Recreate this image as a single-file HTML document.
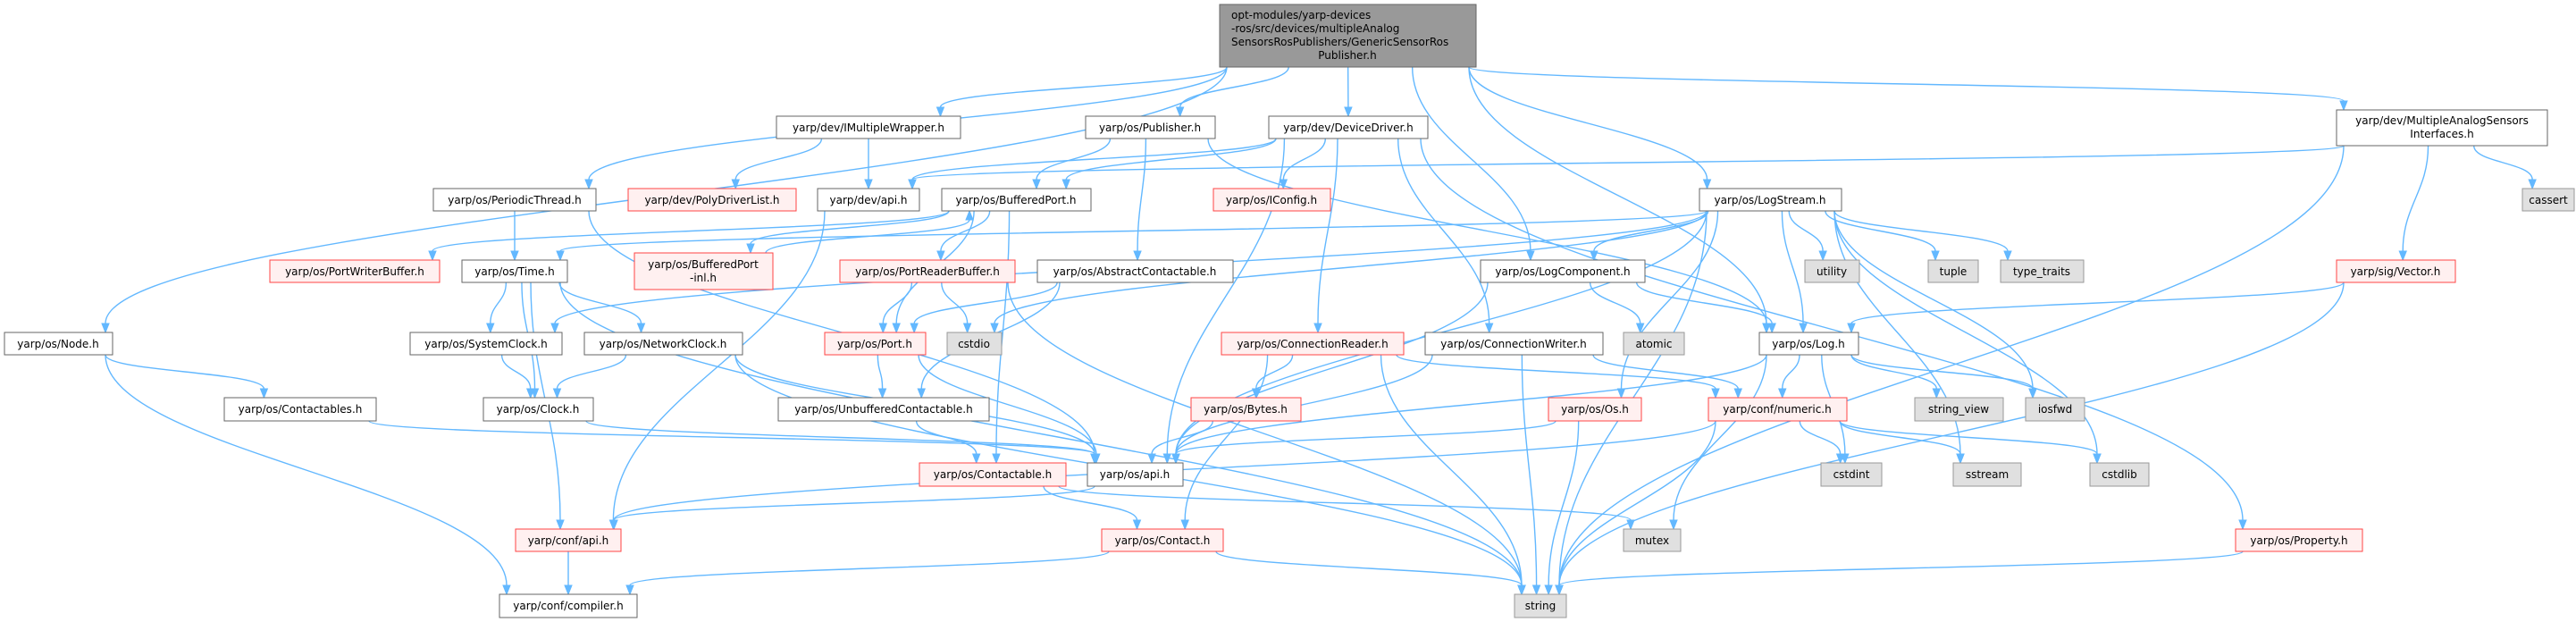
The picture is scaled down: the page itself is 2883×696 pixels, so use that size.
<!DOCTYPE html>
<html><head><meta charset="utf-8"><style>
html,body{margin:0;padding:0;background:#fff;}
svg{display:block;}
text{font-family:"DejaVu Sans","Liberation Sans",sans-serif;font-size:12px;fill:#000;}
</style></head><body>
<svg id="g" width="2883" height="696" viewBox="0 0 2883 696" xmlns="http://www.w3.org/2000/svg">
<g id="edges" fill="none" stroke="#63B8FF" stroke-width="1.4"></g>
<g id="heads" fill="#63B8FF" stroke="#63B8FF"></g>
<g id="nodes">
<rect x="1365" y="5" width="287" height="70" fill="#999" stroke="#666"/>
<text x="1378" y="21">opt-modules/yarp-devices</text>
<text x="1378" y="36">-ros/src/devices/multipleAnalog</text>
<text x="1378" y="51">SensorsRosPublishers/GenericSensorRos</text>
<text x="1508" y="66" text-anchor="middle">Publisher.h</text>

<rect x="869" y="130" width="206" height="25" fill="#fff" stroke="#666"/><text x="972" y="147" text-anchor="middle">yarp/dev/IMultipleWrapper.h</text>
<rect x="1215" y="130" width="145" height="25" fill="#fff" stroke="#666"/><text x="1287" y="147" text-anchor="middle">yarp/os/Publisher.h</text>
<rect x="1420" y="130" width="178" height="25" fill="#fff" stroke="#666"/><text x="1509" y="147" text-anchor="middle">yarp/dev/DeviceDriver.h</text>
<rect x="2615" y="123" width="236" height="40" fill="#fff" stroke="#666"/><text x="2733" y="139" text-anchor="middle">yarp/dev/MultipleAnalogSensors</text><text x="2733" y="154" text-anchor="middle">Interfaces.h</text>

<rect x="485" y="211" width="182" height="25" fill="#fff" stroke="#666"/><text x="576" y="228" text-anchor="middle">yarp/os/PeriodicThread.h</text>
<rect x="703" y="211" width="188" height="25" fill="#FFF0F0" stroke="#FF4444"/><text x="797" y="228" text-anchor="middle">yarp/dev/PolyDriverList.h</text>
<rect x="915" y="211" width="114" height="25" fill="#fff" stroke="#666"/><text x="972" y="228" text-anchor="middle">yarp/dev/api.h</text>
<rect x="1054" y="211" width="167" height="25" fill="#fff" stroke="#666"/><text x="1137" y="228" text-anchor="middle">yarp/os/BufferedPort.h</text>
<rect x="1358" y="211" width="131" height="25" fill="#FFF0F0" stroke="#FF4444"/><text x="1423" y="228" text-anchor="middle">yarp/os/IConfig.h</text>
<rect x="1902" y="211" width="159" height="25" fill="#fff" stroke="#666"/><text x="1981" y="228" text-anchor="middle">yarp/os/LogStream.h</text>
<rect x="2823" y="211" width="58" height="25" fill="#E0E0E0" stroke="#999"/><text x="2852" y="228" text-anchor="middle">cassert</text>

<rect x="302" y="291" width="190" height="25" fill="#FFF0F0" stroke="#FF4444"/><text x="397" y="308" text-anchor="middle">yarp/os/PortWriterBuffer.h</text>
<rect x="517" y="291" width="118" height="25" fill="#fff" stroke="#666"/><text x="576" y="308" text-anchor="middle">yarp/os/Time.h</text>
<rect x="710" y="283" width="155" height="41" fill="#FFF0F0" stroke="#FF4444"/><text x="787" y="300" text-anchor="middle">yarp/os/BufferedPort</text><text x="787" y="315" text-anchor="middle">-inl.h</text>
<rect x="940" y="291" width="196" height="25" fill="#FFF0F0" stroke="#FF4444"/><text x="1038" y="308" text-anchor="middle">yarp/os/PortReaderBuffer.h</text>
<rect x="1161" y="291" width="219" height="25" fill="#fff" stroke="#666"/><text x="1270" y="308" text-anchor="middle">yarp/os/AbstractContactable.h</text>
<rect x="1657" y="291" width="184" height="25" fill="#fff" stroke="#666"/><text x="1749" y="308" text-anchor="middle">yarp/os/LogComponent.h</text>
<rect x="2020" y="291" width="61" height="25" fill="#E0E0E0" stroke="#999"/><text x="2050" y="308" text-anchor="middle">utility</text>
<rect x="2158" y="291" width="56" height="25" fill="#E0E0E0" stroke="#999"/><text x="2186" y="308" text-anchor="middle">tuple</text>
<rect x="2239" y="291" width="93" height="25" fill="#E0E0E0" stroke="#999"/><text x="2285" y="308" text-anchor="middle">type_traits</text>
<rect x="2615" y="291" width="133" height="25" fill="#FFF0F0" stroke="#FF4444"/><text x="2681" y="308" text-anchor="middle">yarp/sig/Vector.h</text>

<rect x="5" y="372" width="121" height="25" fill="#fff" stroke="#666"/><text x="65" y="389" text-anchor="middle">yarp/os/Node.h</text>
<rect x="459" y="372" width="170" height="25" fill="#fff" stroke="#666"/><text x="544" y="389" text-anchor="middle">yarp/os/SystemClock.h</text>
<rect x="654" y="372" width="177" height="25" fill="#fff" stroke="#666"/><text x="742" y="389" text-anchor="middle">yarp/os/NetworkClock.h</text>
<rect x="923" y="372" width="113" height="25" fill="#FFF0F0" stroke="#FF4444"/><text x="979" y="389" text-anchor="middle">yarp/os/Port.h</text>
<rect x="1060" y="372" width="61" height="25" fill="#E0E0E0" stroke="#999"/><text x="1090" y="389" text-anchor="middle">cstdio</text>
<rect x="1367" y="372" width="204" height="25" fill="#FFF0F0" stroke="#FF4444"/><text x="1469" y="389" text-anchor="middle">yarp/os/ConnectionReader.h</text>
<rect x="1595" y="372" width="199" height="25" fill="#fff" stroke="#666"/><text x="1694" y="389" text-anchor="middle">yarp/os/ConnectionWriter.h</text>
<rect x="1817" y="372" width="68" height="25" fill="#E0E0E0" stroke="#999"/><text x="1851" y="389" text-anchor="middle">atomic</text>
<rect x="1969" y="372" width="111" height="25" fill="#fff" stroke="#666"/><text x="2024" y="389" text-anchor="middle">yarp/os/Log.h</text>

<rect x="251" y="445" width="170" height="26" fill="#fff" stroke="#666"/><text x="336" y="462" text-anchor="middle">yarp/os/Contactables.h</text>
<rect x="541" y="445" width="123" height="26" fill="#fff" stroke="#666"/><text x="602" y="462" text-anchor="middle">yarp/os/Clock.h</text>
<rect x="871" y="445" width="236" height="26" fill="#fff" stroke="#666"/><text x="989" y="462" text-anchor="middle">yarp/os/UnbufferedContactable.h</text>
<rect x="1333" y="445" width="123" height="26" fill="#FFF0F0" stroke="#FF4444"/><text x="1394" y="462" text-anchor="middle">yarp/os/Bytes.h</text>
<rect x="1733" y="445" width="104" height="26" fill="#FFF0F0" stroke="#FF4444"/><text x="1785" y="462" text-anchor="middle">yarp/os/Os.h</text>
<rect x="1912" y="445" width="155" height="26" fill="#FFF0F0" stroke="#FF4444"/><text x="1989" y="462" text-anchor="middle">yarp/conf/numeric.h</text>
<rect x="2143" y="445" width="99" height="26" fill="#E0E0E0" stroke="#999"/><text x="2192" y="462" text-anchor="middle">string_view</text>
<rect x="2267" y="445" width="66" height="26" fill="#E0E0E0" stroke="#999"/><text x="2300" y="462" text-anchor="middle">iosfwd</text>

<rect x="1029" y="518" width="164" height="26" fill="#FFF0F0" stroke="#FF4444"/><text x="1111" y="535" text-anchor="middle">yarp/os/Contactable.h</text>
<rect x="1217" y="518" width="107" height="26" fill="#fff" stroke="#666"/><text x="1270" y="535" text-anchor="middle">yarp/os/api.h</text>
<rect x="2038" y="518" width="68" height="26" fill="#E0E0E0" stroke="#999"/><text x="2072" y="535" text-anchor="middle">cstdint</text>
<rect x="2186" y="518" width="76" height="26" fill="#E0E0E0" stroke="#999"/><text x="2224" y="535" text-anchor="middle">sstream</text>
<rect x="2339" y="518" width="66" height="26" fill="#E0E0E0" stroke="#999"/><text x="2372" y="535" text-anchor="middle">cstdlib</text>

<rect x="577" y="592" width="118" height="25" fill="#FFF0F0" stroke="#FF4444"/><text x="636" y="609" text-anchor="middle">yarp/conf/api.h</text>
<rect x="1233" y="592" width="136" height="25" fill="#FFF0F0" stroke="#FF4444"/><text x="1301" y="609" text-anchor="middle">yarp/os/Contact.h</text>
<rect x="1817" y="592" width="64" height="25" fill="#E0E0E0" stroke="#999"/><text x="1849" y="609" text-anchor="middle">mutex</text>
<rect x="2502" y="592" width="142" height="25" fill="#FFF0F0" stroke="#FF4444"/><text x="2573" y="609" text-anchor="middle">yarp/os/Property.h</text>

<rect x="559" y="665" width="154" height="26" fill="#fff" stroke="#666"/><text x="636" y="682" text-anchor="middle">yarp/conf/compiler.h</text>
<rect x="1695" y="665" width="58" height="26" fill="#E0E0E0" stroke="#999"/><text x="1724" y="682" text-anchor="middle">string</text>
</g>
</svg>
<script>
var N={
main:[1365,5,1652,75],imw:[869,130,1075,155],pub:[1215,130,1360,155],dd:[1420,130,1598,155],masi:[2615,123,2851,163],
pt:[485,211,667,236],pdl:[703,211,891,236],devapi:[915,211,1029,236],bp:[1054,211,1221,236],icfg:[1358,211,1489,236],ls:[1902,211,2061,236],cassert:[2823,211,2881,236],
pwb:[302,291,492,316],time:[517,291,635,316],bpi:[710,283,865,324],prb:[940,291,1136,316],ac:[1161,291,1380,316],lc:[1657,291,1841,316],utility:[2020,291,2081,316],tuple:[2158,291,2214,316],tt:[2239,291,2332,316],vec:[2615,291,2748,316],
node:[5,372,126,397],sc:[459,372,629,397],nc:[654,372,831,397],port:[923,372,1036,397],cstdio:[1060,372,1121,397],cr:[1367,372,1571,397],cw:[1595,372,1794,397],atomic:[1817,372,1885,397],log:[1969,372,2080,397],
ctbls:[251,445,421,471],clock:[541,445,664,471],unb:[871,445,1107,471],bytes:[1333,445,1456,471],os:[1733,445,1837,471],num:[1912,445,2067,471],sv:[2143,445,2242,471],iosfwd:[2267,445,2333,471],
ctbl:[1029,518,1193,544],osapi:[1217,518,1324,544],cstdint:[2038,518,2106,544],sstream:[2186,518,2262,544],cstdlib:[2339,518,2405,544],
confapi:[577,592,695,617],contact:[1233,592,1369,617],mutex:[1817,592,1881,617],prop:[2502,592,2644,617],
comp:[559,665,713,691],string:[1695,665,1753,691]};
var E=[["main","pt"],["main","imw"],["main","pub"],["main","dd"],["main","lc"],["main","ls"],["main","log"],["main","masi"],["main","node"],
["imw","pdl"],["imw","devapi"],["pub","bp"],["pub","ac"],["pub","log"],
["dd","devapi"],["dd","bp"],["dd","icfg"],["dd","cr"],["dd","cw"],["dd","osapi"],["dd","prop"],
["masi","devapi"],["masi","cassert"],["masi","vec"],["masi","string"],["devapi","confapi"],
["pt","time"],["pt","osapi"],["bp","bpi"],["bp","prb"],["bp","pwb"],["bp","port"],["bp","ctbl"],["bpi","bp"],
["ls","log"],["ls","lc"],["ls","utility"],["ls","tuple"],["ls","tt"],["ls","osapi"],["ls","cstdio"],["ls","sc"],["ls","time"],["ls","os"],["ls","iosfwd"],["ls","sstream"],["ls","cstdlib"],["ls","string"],
["time","sc"],["time","nc"],["time","clock"],["time","confapi"],["time","string"],
["prb","port"],["prb","cstdio"],["prb","string"],["ac","port"],["ac","unb"],
["lc","atomic"],["lc","log"],["lc","osapi"],["vec","log"],["vec","string"],
["node","ctbls"],["node","comp"],["sc","clock"],["nc","clock"],["nc","osapi"],["nc","string"],
["port","osapi"],["port","unb"],["cr","bytes"],["cr","contact"],["cr","string"],["cr","num"],
["cw","osapi"],["cw","string"],["cw","num"],["log","osapi"],["log","num"],["log","sv"],["log","iosfwd"],["log","cstdint"],["log","mutex"],
["ctbls","osapi"],["clock","osapi"],["unb","ctbl"],["bytes","osapi"],["os","osapi"],["os","string"],
["num","confapi"],["num","cstdint"],["num","sstream"],["num","cstdlib"],["num","string"],
["ctbl","contact"],["ctbl","mutex"],["osapi","confapi"],["confapi","comp"],["contact","comp"],["contact","string"],["prop","string"]];
var ns="http://www.w3.org/2000/svg",ge=document.getElementById("edges"),gh=document.getElementById("heads");
function cl(v,a,b){return Math.max(a,Math.min(b,v));}
E.forEach(function(e){var A=N[e[0]],B=N[e[1]];
var acx=(A[0]+A[2])/2,bcx=(B[0]+B[2])/2,sx,sy,ex,ey,c1y,c2y,dir;
if(B[1]>=A[3]-2){sx=cl(acx+(bcx-acx)*0.3,A[0]+8,A[2]-8);sy=A[3];ex=cl(bcx+(acx-bcx)*0.15,B[0]+8,B[2]-8);ey=B[1];dir=1;}
else{sx=cl(acx+(bcx-acx)*0.3,A[0]+8,A[2]-8);sy=A[1];ex=cl(bcx+(acx-bcx)*0.15,B[0]+8,B[2]-8);ey=B[3];dir=-1;}
var dy=ey-sy,h=Math.abs(dy)*0.4;
var ay=ey-dir*10;
var p=document.createElementNS(ns,"path");
p.setAttribute("d","M"+sx+","+sy+" C"+sx+","+(sy+dir*h)+" "+ex+","+(ay-dir*h)+" "+ex+","+ay);
ge.appendChild(p);
var t=document.createElementNS(ns,"polygon");
t.setAttribute("points",(ex-4)+","+ay+" "+(ex+4)+","+ay+" "+ex+","+ey);
gh.appendChild(t);});
</script>
</body></html>
